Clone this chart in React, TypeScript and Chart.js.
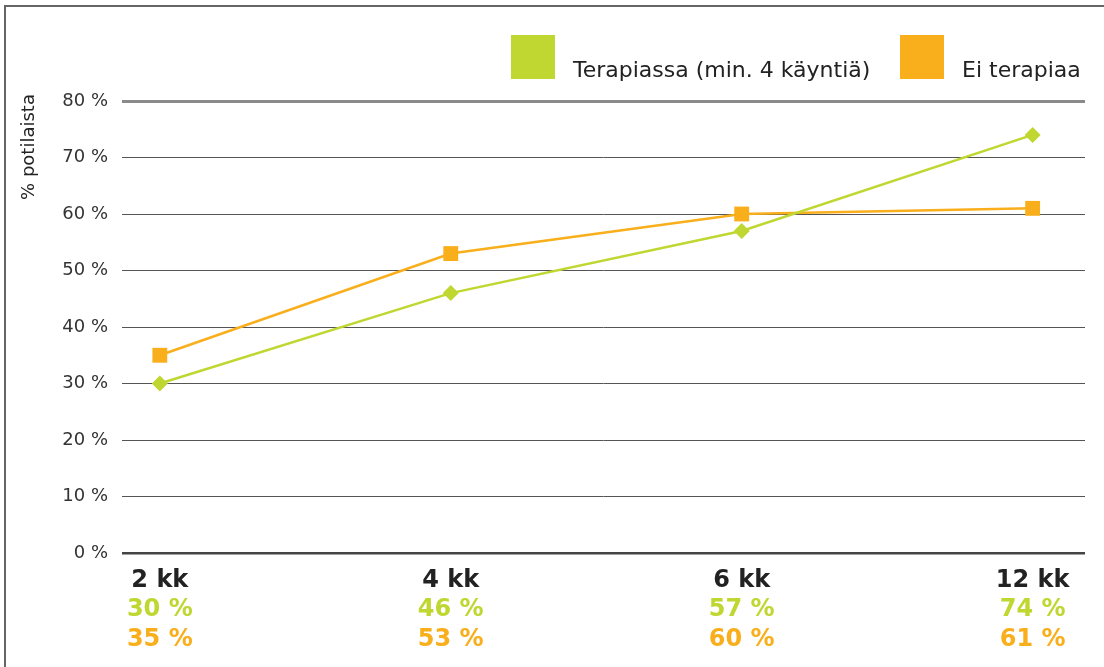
import { useEffect, useRef } from "react";
import { Chart, registerables } from "chart.js";

Chart.register(...registerables);

// Follow-up periods and share of patients (%) in each group
const periods = ["2 kk", "4 kk", "6 kk", "12 kk"];
const terapiassa = [30, 46, 57, 74];
const eiTerapiaa = [35, 53, 60, 61];
const seriesNames = ["Terapiassa (min. 4 käyntiä)", "Ei terapiaa"];
const yTitle = "% potilaista";
const yMax = 80;
const yStep = 10;

const GREEN = "#bfd730";
const ORANGE = "#f9ae1b";
const FONT = "'DejaVu Sans', Verdana, sans-serif";

const annotate = {
  id: "annotate",
  afterDraw(chart: any) {
    const { ctx } = chart;
    const xs = chart.scales.x;
    ctx.save();

    // multi-line category labels with per-series values
    ctx.textAlign = "center";
    ctx.textBaseline = "alphabetic";
    ctx.font = `bold 24px ${FONT}`;
    periods.forEach((p, i) => {
      const px = xs.getPixelForValue(i);
      ctx.fillStyle = "#222";
      ctx.fillText(p, px, 587);
      ctx.fillStyle = GREEN;
      ctx.fillText(`${terapiassa[i]} %`, px, 616);
      ctx.fillStyle = ORANGE;
      ctx.fillText(`${eiTerapiaa[i]} %`, px, 646);
    });

    // legend with large square swatches, text sitting on the swatch baseline
    const swatchX = [511, 900];
    const textX = [573, 962];
    const colors = [GREEN, ORANGE];
    ctx.font = `22px ${FONT}`;
    ctx.textAlign = "left";
    seriesNames.forEach((name, i) => {
      ctx.fillStyle = colors[i];
      ctx.fillRect(swatchX[i], 35, 44, 44);
      ctx.fillStyle = "#222";
      ctx.fillText(name, textX[i], 77);
    });

    // rotated y-axis title near the top of the axis
    ctx.translate(33.5, 147);
    ctx.rotate(-Math.PI / 2);
    ctx.textAlign = "center";
    ctx.font = `18px ${FONT}`;
    ctx.fillStyle = "#222";
    ctx.fillText(yTitle, 0, 0);
    ctx.restore();
  },
};

export default function App() {
  const canvasRef = useRef<HTMLCanvasElement | null>(null);

  useEffect(() => {
    const canvas = canvasRef.current;
    if (!canvas) return;
    const chart = new Chart(canvas, {
      type: "line",
      data: {
        datasets: [
          {
            label: seriesNames[0],
            data: terapiassa.map((v, i) => ({ x: i, y: v })),
            borderColor: GREEN,
            backgroundColor: GREEN,
            borderWidth: 2.5,
            pointStyle: "rectRot",
            pointRadius: 8,
            pointBorderWidth: 0,
            pointBackgroundColor: GREEN,
            tension: 0,
          },
          {
            label: seriesNames[1],
            data: eiTerapiaa.map((v, i) => ({ x: i, y: v })),
            borderColor: ORANGE,
            backgroundColor: ORANGE,
            borderWidth: 2.5,
            pointStyle: "rect",
            pointRadius: 10.5,
            pointBorderWidth: 0,
            pointBackgroundColor: ORANGE,
            tension: 0,
          },
        ],
      },
      options: {
        animation: false,
        responsive: false,
        maintainAspectRatio: false,
        devicePixelRatio: 1,
        layout: { padding: { left: 0, top: 101, right: 19, bottom: 114 } },
        plugins: {
          legend: { display: false },
          tooltip: { enabled: false },
        },
        scales: {
          x: {
            type: "linear",
            display: false,
            min: -0.13,
            max: 3.18,
          },
          y: {
            min: 0,
            max: yMax,
            afterFit(scale: any) {
              scale.width = 122;
            },
            border: { display: false },
            grid: {
              drawTicks: false,
              color: (c: any) =>
                c.tick && c.tick.value === yMax
                  ? "#8a8a8a"
                  : c.tick && c.tick.value === 0
                  ? "#444"
                  : "#555",
              lineWidth: (c: any) =>
                c.tick && c.tick.value === yMax ? 3 : c.tick && c.tick.value === 0 ? 2.5 : 1,
            },
            ticks: {
              stepSize: yStep,
              padding: 14,
              color: "#333",
              font: { family: FONT, size: 18 },
              callback: (v: any) => `${v} %`,
            },
          },
        },
      },
      plugins: [annotate],
    });
    return () => chart.destroy();
  }, []);

  return (
    <div
      style={{
        position: "fixed",
        left: 0,
        top: 0,
        width: 1104,
        height: 667,
        background: "#fff",
        overflow: "hidden",
      }}
    >
      <canvas
        ref={canvasRef}
        width={1104}
        height={667}
        style={{ display: "block", width: 1104, height: 667 }}
      />
      <div
        style={{
          position: "absolute",
          left: 4,
          top: 5,
          width: 1200,
          height: 800,
          border: "2px solid #666",
          boxSizing: "border-box",
          pointerEvents: "none",
        }}
      />
    </div>
  );
}
